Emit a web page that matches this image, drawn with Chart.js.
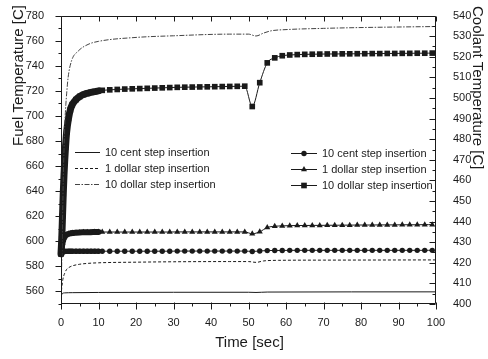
<!DOCTYPE html>
<html>
<head>
<meta charset="utf-8">
<script src="https://cdn.jsdelivr.net/npm/chart.js@4.4.1/dist/chart.umd.min.js"></script>
<style>
  html, body { margin: 0; padding: 0; background: #fff; }
  #wrap { width: 488px; height: 359px; }
</style>
</head>
<body>
<div id="wrap"><canvas id="chart" width="488" height="359"></canvas></div>
<script>
// ---- Fuel temperature (left axis), sampled densely for the first 10 s, then every 2 s ----
const fuelTime = [0, 0.2, 0.4, 0.6, 0.8, 1, 1.2, 1.5, 2, 2.5, 3, 4, 5, 6, 7, 8, 9, 10,
  11, 13, 15, 17, 19, 21, 23, 25, 27, 29, 31, 33, 35, 37, 39, 41, 43, 45, 47, 49,
  51, 53, 55, 57, 59, 61, 63, 65, 67, 69, 71, 73, 75, 77, 79, 81, 83, 85, 87, 89,
  91, 93, 95, 97, 99];

const fuel10Cent = [590, 591.0, 591.4, 591.7, 591.8, 591.9, 592.0, 592.0, 592.1, 592.1,
  592.1, 592.1, 592.1, 592.1, 592.1, 592.1, 592.1, 592.1,
  592.1, 592.1, 592.1, 592.1, 592.1, 592.1, 592.1, 592.1, 592.1, 592.1,
  592.2, 592.2, 592.2, 592.2, 592.2, 592.2, 592.2, 592.2, 592.2, 592.2,
  591.9, 592.3, 592.6, 592.7, 592.7, 592.8, 592.8, 592.8, 592.8, 592.8,
  592.8, 592.8, 592.8, 592.8, 592.8, 592.8, 592.8, 592.8, 592.8, 592.8,
  592.8, 592.8, 592.8, 592.8, 592.8];

const fuel1Dollar = [590, 595.0, 598.5, 601.0, 602.8, 603.8, 604.6, 605.3, 605.9, 606.3,
  606.6, 606.9, 607.1, 607.2, 607.3, 607.3, 607.4, 607.4,
  607.4, 607.4, 607.4, 607.4, 607.4, 607.4, 607.4, 607.4, 607.4, 607.4,
  607.5, 607.5, 607.5, 607.5, 607.5, 607.5, 607.5, 607.5, 607.5, 607.5,
  606.0, 607.6, 611.0, 612.0, 612.3, 612.5, 612.6, 612.6, 612.7, 612.7,
  612.8, 612.8, 612.9, 612.9, 613.0, 613.0, 613.0, 613.1, 613.1, 613.1,
  613.2, 613.2, 613.2, 613.3, 613.3];

const fuel10Dollar = [590, 602, 620, 638, 653, 665, 675, 687, 698, 705,
  709, 713, 715.5, 717, 718, 718.8, 719.4, 720.0,
  720.4, 720.8, 721.1, 721.4, 721.6, 721.8, 722.0, 722.2, 722.4, 722.6,
  722.8, 722.9, 723.0, 723.1, 723.2, 723.3, 723.4, 723.5, 723.6, 723.7,
  707.5, 726.5, 742.3, 746.3, 748.0, 748.6, 748.9, 749.1, 749.2, 749.3,
  749.4, 749.4, 749.5, 749.5, 749.6, 749.6, 749.7, 749.7, 749.8, 749.8,
  749.9, 749.9, 750.0, 750.0, 750.1];

// ---- Coolant temperature (right axis) ----
const cool10CentTime = [0, 0.3, 1, 3, 10, 50, 52, 55, 100];
const cool10Cent = [403.5, 405.0, 405.4, 405.5, 405.6, 405.7, 405.6, 405.8, 405.9];

const cool1DollarTime = [0, 0.2, 0.5, 1, 1.5, 2, 3, 5, 7, 10, 20, 30, 45, 50, 52, 54, 58, 70, 100];
const cool1Dollar = [404, 408, 412, 415, 416.8, 417.6, 418.5, 419.3, 419.7, 420.0,
  420.3, 420.5, 420.6, 420.6, 420.2, 420.9, 421.2, 421.3, 421.4];

const cool10DollarTime = [0, 0.3, 0.6, 0.8, 1.06, 1.3, 1.5, 1.9, 2.8, 4.6, 7.2, 10, 20, 30,
  45, 50, 52, 54, 56, 60, 70, 80, 100];
const cool10Dollar = [404, 430, 460, 475, 489, 497, 502, 510, 518, 522.8, 526, 527.5, 529.4,
  530.2, 531, 531, 530.1, 531.5, 532.6, 533.2, 533.8, 534.2, 534.7];

// ---- Axis settings ----
const timeRange = [0, 100];
const fuelRange = [550, 780];
const coolRange = [400, 540];
const seriesLabels = ['10 cent step insertion', '1 dollar step insertion', '10 dollar step insertion'];

const FONT = "'Liberation Sans', Arial, sans-serif";
const INK = '#1a1a1a';
const DENSE_END = 10;   // markers overlap into a solid band up to here

const pairs = (xs, ys) => xs.map((x, i) => ({ x, y: ys[i] }));

function fuelSet(label, values, style, radius, band) {
  return {
    label, data: pairs(fuelTime, values), yAxisID: 'yFuel',
    borderColor: INK, backgroundColor: INK, borderWidth: 1,
    pointStyle: style, pointRadius: radius, pointBorderWidth: 0,
    pointBackgroundColor: INK, cubicInterpolationMode: 'monotone',
    borderJoinStyle: 'round', borderCapStyle: 'round', clip: false,
    segment: { borderWidth: c => (c.p1.parsed.x <= DENSE_END ? band : 1) },
    group: 'right'
  };
}
function coolSet(label, xs, ys, dash, color, width) {
  return {
    label, data: pairs(xs, ys), yAxisID: 'yCool',
    borderColor: color, backgroundColor: color, borderWidth: width,
    borderDash: dash, pointRadius: 0, cubicInterpolationMode: 'monotone',
    group: 'left'
  };
}

// axis frame with Origin-style tick marks
const framePlugin = {
  id: 'frame',
  afterDatasetsDraw(chart) {
    const { ctx, chartArea: a, scales } = chart;
    const L = Math.round(a.left) + 0.5, R = Math.round(a.right) - 0.5;
    const T = Math.round(a.top) + 0.5, B = Math.round(a.bottom) - 0.5;
    ctx.save();
    ctx.strokeStyle = INK; ctx.lineWidth = 1;
    ctx.beginPath();
    ctx.rect(L, T, R - L, B - T);
    const xs = scales.x;
    xs.ticks.forEach(t => {
      const px = Math.round(xs.getPixelForValue(t.value)) + 0.5;
      const major = t.value % 10 === 0;
      const len = major ? 6 : 3;
      ctx.moveTo(px, B - (major ? 1 : 0)); ctx.lineTo(px, B + len);
      ctx.moveTo(px, T); ctx.lineTo(px, T + (major ? 5 : 3));
    });
    const yl = scales.yFuel;
    yl.ticks.forEach(t => {
      const py = Math.round(yl.getPixelForValue(t.value)) + 0.5;
      const major = t.value % 20 === 0;
      ctx.moveTo(L, py); ctx.lineTo(L - (major ? 6 : 3), py);
    });
    const yr = scales.yCool;
    yr.ticks.forEach(t => {
      const py = Math.round(yr.getPixelForValue(t.value)) + 0.5;
      const major = t.value % 10 === 0;
      ctx.moveTo(R, py); ctx.lineTo(R - (major ? 6 : 3), py);
    });
    ctx.stroke();
    ctx.restore();
  }
};

// axis titles placed at fixed anchor points
const titlePlugin = {
  id: 'titles',
  afterDraw(chart, args, opts) {
    const { ctx } = chart;
    ctx.save();
    ctx.fillStyle = INK;
    ctx.font = `15px ${FONT}`;
    ctx.textBaseline = 'middle';
    opts.items.forEach(it => {
      ctx.save();
      ctx.textAlign = it.align;
      ctx.translate(it.x, it.y);
      ctx.rotate(it.rot);
      ctx.fillText(it.text, 0, 0);
      ctx.restore();
    });
    ctx.restore();
  }
};

function drawMarker(ctx, style, r, x, y) {
  ctx.beginPath();
  if (style === 'circle') {
    ctx.arc(x, y, r, 0, Math.PI * 2);
  } else if (style === 'triangle') {
    ctx.moveTo(x, y - r);
    ctx.lineTo(x + r * Math.sin(Math.PI * 2 / 3), y + r * 0.5);
    ctx.lineTo(x - r * Math.sin(Math.PI * 2 / 3), y + r * 0.5);
    ctx.closePath();
  } else {
    const h = r * Math.SQRT1_2;
    ctx.rect(x - h, y - h, 2 * h, 2 * h);
  }
  ctx.fill();
}

// two in-plot legends: coolant lines on the left, fuel markers on the right
const legendPlugin = {
  id: 'twoLegends',
  afterDraw(chart, args, opts) {
    const { ctx } = chart;
    ctx.save();
    ctx.font = `11px ${FONT}`;
    ctx.textBaseline = 'middle'; ctx.textAlign = 'left';
    opts.boxes.forEach(box => {
      const sets = chart.data.datasets.filter(d => d.group === box.group);
      sets.forEach((ds, i) => {
        const y = box.y + i * box.gap;
        ctx.strokeStyle = ds.borderColor;
        ctx.lineWidth = box.group === 'left' ? ds.borderWidth : 1;
        ctx.setLineDash(ds.borderDash || []);
        ctx.beginPath();
        ctx.moveTo(box.x, y + 0.5); ctx.lineTo(box.x + box.len, y + 0.5);
        ctx.stroke();
        ctx.setLineDash([]);
        if (ds.pointRadius) {
          ctx.fillStyle = ds.pointBackgroundColor;
          drawMarker(ctx, ds.pointStyle, ds.pointRadius, box.x + box.len / 2, y + 0.5);
        }
        ctx.fillStyle = INK;
        ctx.fillText(ds.label, box.x + box.len + box.pad, y + 0.5);
      });
    });
    ctx.restore();
  }
};

new Chart(document.getElementById('chart'), {
  type: 'line',
  data: {
    datasets: [
      coolSet(seriesLabels[0], cool10CentTime, cool10Cent, [], INK, 1),
      coolSet(seriesLabels[1], cool1DollarTime, cool1Dollar, [3, 2], INK, 1),
      coolSet(seriesLabels[2], cool10DollarTime, cool10Dollar, [5, 1.5, 1.5, 1.5], '#444', 1),
      fuelSet(seriesLabels[0], fuel10Cent, 'circle', 2.7, 5),
      fuelSet(seriesLabels[1], fuel1Dollar, 'triangle', 3.5, 6),
      fuelSet(seriesLabels[2], fuel10Dollar, 'rect', 4, 7)
    ]
  },
  options: {
    responsive: false,
    animation: false,
    devicePixelRatio: 1,
    layout: { padding: { top: 13, left: 0, right: 0, bottom: 0 } },
    plugins: {
      legend: { display: false },
      tooltip: { enabled: false },
      titles: {
        items: [
          { text: 'Time [sec]', x: 249.5, y: 342.5, rot: 0, align: 'center' },
          { text: 'Fuel Temperature [C]', x: 19, y: 5, rot: -Math.PI / 2, align: 'right' },
          { text: 'Coolant Temperature [C]', x: 477, y: 6, rot: Math.PI / 2, align: 'left' }
        ]
      },
      twoLegends: {
        boxes: [
          { group: 'left', x: 75, y: 152, gap: 16, len: 25, pad: 5 },
          { group: 'right', x: 291, y: 153, gap: 16, len: 26, pad: 5 }
        ]
      }
    },
    scales: {
      x: {
        type: 'linear', position: 'bottom',
        min: timeRange[0], max: timeRange[1],
        grid: { display: false }, border: { display: false },
        ticks: {
          stepSize: 5, maxTicksLimit: 100, autoSkip: false, maxRotation: 0,
          padding: 4, color: INK, font: { family: FONT, size: 11 },
          callback: v => (v % 10 === 0 ? String(v) : '')
        },
        afterFit: s => { s.height = 55; }
      },
      yFuel: {
        type: 'linear', position: 'left',
        min: fuelRange[0], max: fuelRange[1],
        grid: { display: false }, border: { display: false },
        ticks: {
          stepSize: 10, maxTicksLimit: 100, autoSkip: false,
          padding: 9, color: INK, font: { family: FONT, size: 11 },
          callback: v => (v % 20 === 0 ? String(v) : '')
        },
        afterFit: s => { s.width = 61; }
      },
      yCool: {
        type: 'linear', position: 'right',
        min: coolRange[0], max: coolRange[1],
        grid: { display: false }, border: { display: false },
        ticks: {
          stepSize: 5, maxTicksLimit: 100, autoSkip: false,
          padding: 9, color: INK, font: { family: FONT, size: 11 },
          callback: v => (v % 10 === 0 ? String(v) : '')
        },
        afterFit: s => { s.width = 52; }
      }
    }
  },
  plugins: [framePlugin, titlePlugin, legendPlugin]
});
</script>
</body>
</html>
